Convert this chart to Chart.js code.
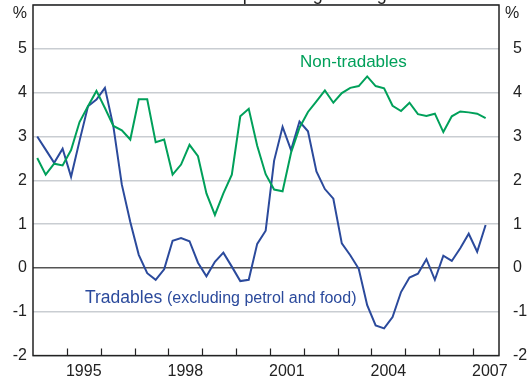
<!DOCTYPE html>
<html lang="en">
<head>
  <meta charset="UTF-8">
  <title>Tradables and non-tradables inflation</title>
  <style>
    body {
      margin: 0;
      background: #fff;
    }
    #chart {
      display: block;
    }
  </style>
</head>
<body>
  <canvas id="chart" width="531" height="382"></canvas>

  <script src="https://cdn.jsdelivr.net/npm/chart.js"></script>
  <script>
    // quarterly series, March quarter 1994 to June quarter 2007
    const firstYear = 1994;
    const yearLabels = [1995, 1998, 2001, 2004, 2007];
    const yTicks = [-2, -1, 0, 1, 2, 3, 4, 5, 6];

    const nonTradables = [
      2.51, 2.13, 2.38, 2.34, 2.69, 3.33, 3.69, 4.04, 3.65, 3.24,
      3.14, 2.93, 3.85, 3.85, 2.87, 2.93, 2.13, 2.36, 2.81, 2.55,
      1.70, 1.21, 1.70, 2.13, 3.46, 3.63, 2.79, 2.14, 1.79, 1.75,
      2.63, 3.20, 3.56, 3.80, 4.05, 3.77, 3.99, 4.11, 4.15, 4.37,
      4.15, 4.10, 3.70, 3.58, 3.77, 3.51, 3.47, 3.52, 3.10, 3.46,
      3.57, 3.55, 3.52, 3.42
    ];
    const tradables = [
      3.00, 2.70, 2.40, 2.72, 2.08, 2.90, 3.69, 3.84, 4.11, 3.23,
      1.90, 1.05, 0.30, -0.12, -0.27, -0.03, 0.62, 0.68, 0.61, 0.12,
      -0.19, 0.14, 0.35, 0.03, -0.30, -0.27, 0.55, 0.85, 2.45, 3.22,
      2.69, 3.34, 3.12, 2.20, 1.80, 1.58, 0.56, 0.29, -0.02, -0.85,
      -1.31, -1.38, -1.12, -0.55, -0.22, -0.13, 0.20, -0.27, 0.28, 0.16,
      0.45, 0.78, 0.37, 0.98
    ];

    // mid-quarter dates as decimal years
    const quarters = nonTradables.map((_, i) => firstYear + (i + 0.5) / 4);

    const GREEN = '#00a05a';
    const BLUE = '#2b4a9c';
    const TEXT = '#222';

    function toPoints(values) {
      return values.map((v, i) => ({ x: quarters[i], y: v }));
    }

    // keep the axes from reserving room for half of their end labels
    function noEndPadding(scale) {
      scale.paddingTop = 0;
      scale.paddingBottom = 0;
      scale.paddingLeft = 0;
      scale.paddingRight = 0;
    }

    // frame, inward year ticks, % signs and series labels
    const decorations = {
      id: 'decorations',
      afterDatasetsDraw(chart) {
        const { ctx, chartArea: a, scales } = chart;
        const x = scales.x;
        ctx.save();

        ctx.strokeStyle = TEXT;
        ctx.lineWidth = 1.5;
        ctx.strokeRect(a.left, a.top, a.right - a.left, a.bottom - a.top);

        ctx.beginPath();
        for (let yr = firstYear + 1; yr <= 2007; yr++) {
          const px = Math.round(x.getPixelForValue(yr)) + 0.5;
          ctx.moveTo(px, a.bottom);
          ctx.lineTo(px, a.bottom - 7);
        }
        ctx.lineWidth = 1.2;
        ctx.stroke();

        ctx.fillStyle = TEXT;
        ctx.font = '16px Arial, "Liberation Sans", sans-serif';
        ctx.textBaseline = 'middle';
        ctx.textAlign = 'right';
        ctx.fillText('%', 27, 14);
        ctx.textAlign = 'left';
        ctx.fillText('%', 505, 14);

        ctx.textBaseline = 'alphabetic';
        ctx.textAlign = 'center';
        ctx.font = '18px Arial, "Liberation Sans", sans-serif';
        ctx.fillText('Year-ended percentage change', 271, -0.5);

        ctx.fillStyle = GREEN;
        ctx.font = '17px Arial, "Liberation Sans", sans-serif';
        ctx.textAlign = 'left';
        ctx.fillText('Non-tradables', 300, 67);

        ctx.fillStyle = BLUE;
        ctx.font = '17.5px Arial, "Liberation Sans", sans-serif';
        ctx.fillText('Tradables', 85, 303);
        ctx.font = '16px Arial, "Liberation Sans", sans-serif';
        ctx.fillText('(excluding petrol and food)', 167, 303);

        ctx.restore();
      }
    };

    const tickFont = { family: 'Arial, "Liberation Sans", sans-serif', size: 16 };

    new Chart(document.getElementById('chart'), {
      type: 'line',
      data: {
        datasets: [
          {
            label: 'Non-tradables',
            data: toPoints(nonTradables),
            borderColor: GREEN,
            borderWidth: 2,
            pointRadius: 0,
            tension: 0
          },
          {
            label: 'Tradables (excluding petrol and food)',
            data: toPoints(tradables),
            borderColor: BLUE,
            borderWidth: 2,
            pointRadius: 0,
            tension: 0
          }
        ]
      },
      options: {
        responsive: false,
        devicePixelRatio: 1,
        animation: false,
        layout: { padding: { top: 5, left: 0, right: 0, bottom: 0 } },
        plugins: {
          legend: { display: false },
          tooltip: { enabled: false }
        },
        scales: {
          x: {
            type: 'linear',
            min: firstYear,
            max: 2007.77,
            afterBuildTicks(scale) {
              scale.ticks = yearLabels.map(y => ({ value: y + 0.5 }));
            },
            afterFit(scale) {
              scale.height = 26.4;
              noEndPadding(scale);
            },
            ticks: {
              font: tickFont,
              color: TEXT,
              padding: 6,
              maxRotation: 0,
              autoSkip: false,
              callback: v => String(Math.floor(v))
            },
            grid: { display: false, drawTicks: false },
            border: { display: false }
          },
          y: {
            position: 'left',
            min: -2,
            max: 6,
            afterBuildTicks(scale) {
              scale.ticks = yTicks.map(v => ({ value: v }));
            },
            afterFit(scale) {
              scale.width = 33;
              noEndPadding(scale);
            },
            ticks: {
              font: tickFont,
              color: TEXT,
              padding: 6,
              callback: v => (v === 6 ? '' : String(v))
            },
            grid: {
              drawTicks: false,
              lineWidth: 1.5,
              color: ctx => (ctx.tick && ctx.tick.value === 0 ? '#555' : '#c9cdd2')
            },
            border: { display: false }
          },
          y2: {
            position: 'right',
            min: -2,
            max: 6,
            afterBuildTicks(scale) {
              scale.ticks = yTicks.map(v => ({ value: v }));
            },
            afterFit(scale) {
              scale.width = 32;
              noEndPadding(scale);
            },
            ticks: {
              font: tickFont,
              color: TEXT,
              padding: 14,
              callback: v => (v === 6 ? '' : String(v))
            },
            grid: { display: false, drawTicks: false },
            border: { display: false }
          }
        }
      },
      plugins: [decorations]
    });
  </script>
</body>
</html>
